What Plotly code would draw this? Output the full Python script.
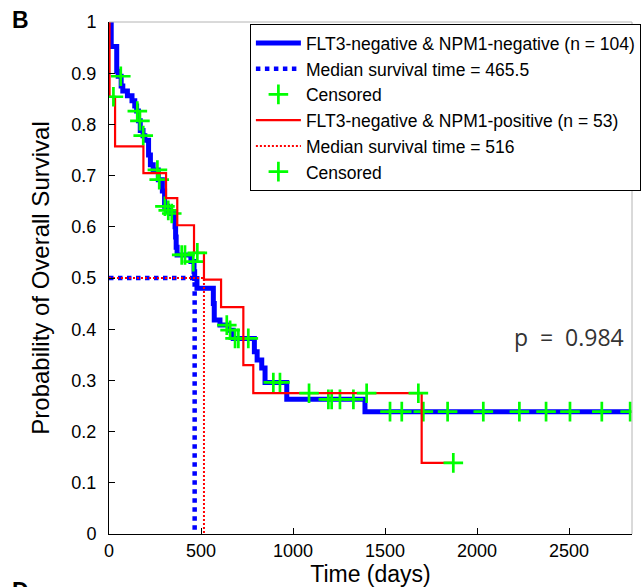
import numpy as np
import plotly.graph_objects as go

# ---------------- data ----------------
blue_name = "FLT3-negative & NPM1-negative (n = 104)"
red_name = "FLT3-negative & NPM1-positive (n = 53)"
blue_median = 465.5
red_median = 516

# Kaplan-Meier step points (time, survival after the step)
blue_t = [0, 12, 42, 50, 66, 75, 100, 125, 140, 150, 160, 170, 185, 195, 215, 225, 240,
          268, 290, 302, 318, 335, 355, 359, 362, 365, 370, 445, 462, 465.5, 478,
          567, 572, 603, 650, 675, 790, 805, 830, 848, 966, 1391, 2832]
blue_s = [1.0, 0.952, 0.904, 0.894, 0.875, 0.865, 0.856, 0.846, 0.836, 0.826, 0.807, 0.788,
          0.778, 0.769, 0.740, 0.721, 0.711, 0.692, 0.670, 0.640, 0.632, 0.626, 0.617, 0.600,
          0.580, 0.560, 0.545, 0.532, 0.512, 0.499, 0.480, 0.450, 0.418, 0.408, 0.398, 0.382,
          0.356, 0.340, 0.324, 0.296, 0.263, 0.239, 0.239]
blue_cens = [64, 154, 168, 186, 263, 273, 304, 322, 341, 395, 413, 458, 640, 658, 685, 703,
             757, 893, 929, 1192, 1210, 1255, 1328, 1527, 1591, 1708, 1840, 2034, 2230,
             2375, 2505, 2678, 2832]

red_t = [0, 3, 33, 187, 310, 371, 462, 516, 609, 730, 784, 1699, 1871]
red_s = [1.0, 0.854, 0.757, 0.705, 0.656, 0.603, 0.549, 0.497, 0.443, 0.330, 0.275, 0.139, 0.139]
red_cens = [24, 480, 1087, 1400, 1681, 1871]

p_text = "p\u00a0 =\u00a0 0.984"
x_ticks = [0, 500, 1000, 1500, 2000, 2500]
y_ticks = [0, 0.1, 0.2, 0.3, 0.4, 0.5, 0.6, 0.7, 0.8, 0.9, 1.0]
y_ticktext = ["0", "0.1", "0.2", "0.3", "0.4", "0.5", "0.6", "0.7", "0.8", "0.9", "1"]


def surv_at(ts, ss, times):
    ts = np.asarray(ts, float)
    ss = np.asarray(ss, float)
    idx = np.searchsorted(ts, np.asarray(times, float), side="right") - 1
    return ss[idx]


FONT = "Liberation Sans, Arial, sans-serif"
BLUE = "#0000FF"
RED = "#FF0000"
GREEN = "#00FF00"

fig = go.Figure()

fig.add_trace(go.Scatter(x=blue_t, y=blue_s, mode="lines", line=dict(shape="hv", color=BLUE, width=5),
                         name=blue_name))
fig.add_trace(go.Scatter(x=[0, blue_median, blue_median], y=[0.5, 0.5, 0], mode="lines",
                         line=dict(color=BLUE, width=4.5, dash="dot"),
                         name="Median survival time = %g" % blue_median))
fig.add_trace(go.Scatter(x=blue_cens, y=surv_at(blue_t, blue_s, blue_cens), mode="markers",
                         marker=dict(symbol="cross-thin", size=14, color=GREEN,
                                     line=dict(color=GREEN, width=2.7)),
                         name="Censored"))
fig.add_trace(go.Scatter(x=red_t, y=red_s, mode="lines", line=dict(shape="hv", color=RED, width=2.2),
                         name=red_name))
fig.add_trace(go.Scatter(x=[0, red_median, red_median], y=[0.5, 0.5, 0], mode="lines",
                         line=dict(color=RED, width=2, dash="2px,2px"),
                         name="Median survival time = %g" % red_median))
fig.add_trace(go.Scatter(x=red_cens, y=surv_at(red_t, red_s, red_cens), mode="markers",
                         marker=dict(symbol="cross-thin", size=14, color=GREEN,
                                     line=dict(color=GREEN, width=2.7)),
                         name="Censored"))

fig.update_layout(
    width=644, height=587,
    margin=dict(l=109, r=12, t=22, b=53, autoexpand=False),
    paper_bgcolor="white", plot_bgcolor="white",
    font=dict(family=FONT, color="black", size=18),
    showlegend=True,
    legend=dict(x=1.017, xanchor="right", y=0.996, yanchor="top",
                bgcolor="white", bordercolor="black", borderwidth=1,
                font=dict(size=17.5, family=FONT, color="black"),
                itemwidth=45, tracegroupgap=0),
    xaxis=dict(range=[0, 2842], tickvals=x_ticks, ticks="inside", ticklen=6, tickcolor="black",
               showline=True, linecolor="black", linewidth=1, showgrid=False, zeroline=False,
               automargin=False, ticklabelstandoff=0,
               tickfont=dict(size=18, family=FONT, color="black"),
               title=dict(text="Time (days)", font=dict(size=23, family=FONT), standoff=3)),
    yaxis=dict(range=[0, 1], tickvals=y_ticks, ticktext=y_ticktext, ticks="inside", ticklen=6,
               tickcolor="black", showline=True, linecolor="black", linewidth=1, showgrid=False,
               zeroline=False, automargin=False, ticklabelstandoff=8,
               tickfont=dict(size=18, family=FONT, color="black"),
               title=dict(text="Probability of Overall Survival", font=dict(size=24, family=FONT),
                          standoff=14)),
    shapes=[
        dict(type="line", xref="paper", yref="paper", x0=0, x1=1, y0=1, y1=1,
             line=dict(color="#b4b4b4", width=1)),
        dict(type="line", xref="paper", yref="paper", x0=1, x1=1, y0=0, y1=1,
             line=dict(color="#b4b4b4", width=1)),
    ],
    annotations=[
        dict(text=p_text, x=2810, y=0.385, xref="x", yref="y", xanchor="right", yanchor="middle",
             showarrow=False, font=dict(size=23, family="Open Sans, sans-serif", color="#333333")),
        dict(text="<b>B</b>", x=-0.19, y=1.034, xref="paper", yref="paper", xanchor="left",
             yanchor="top", showarrow=False, font=dict(size=23, family=FONT, color="black")),
        dict(text="<b>D</b>", x=-0.19, y=-0.082, xref="paper", yref="paper", xanchor="left",
             yanchor="top", showarrow=False, font=dict(size=23, family=FONT, color="black")),
    ],
)

fig.write_html("out.html", config={"displayModeBar": False},
               post_script="document.body.style.margin='0';")
